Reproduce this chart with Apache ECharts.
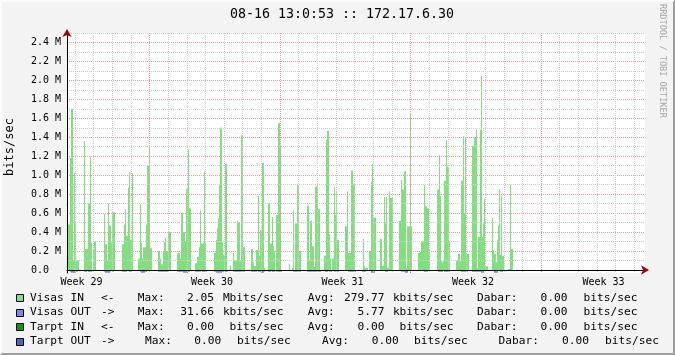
<!DOCTYPE html>
<html><head><meta charset="utf-8">
<script src="https://cdn.jsdelivr.net/npm/echarts@6/dist/echarts.min.js"></script>
<style>
html,body{margin:0;padding:0;background:#f3f3f3;}
#c{position:absolute;left:0;top:0;width:675px;height:355px;}
#frame{position:absolute;left:0;top:0;width:675px;height:355px;box-sizing:border-box;border:2px solid;border-color:#fcfcfc #9e9e9e #9e9e9e #fcfcfc;pointer-events:none;}
</style></head><body>
<div id="c"></div><div id="frame"></div>
<script>
// ---- data (one value per sample, time step = 1/578 of the 31-day window) ----
const title = '08-16 13:0:53 :: 172.17.6.30';
const yAxisName = 'bits/sec';
const watermark = 'RRDTOOL / TOBI OETIKER';
const weekLabels = ['Week 29', 'Week 30', 'Week 31', 'Week 32', 'Week 33'];
const weekLabelPos = [-3.65, 3.35, 10.35, 17.35, 24.35];   // days, week grid at 0,7,14,21
const windowStart = -4.425;  // days
const windowDays = 31;
const samplesInWindow = 578;

// Visas IN, Mbits/sec
const visasIn = [
.21,.48,.48,1.18,1.70,1.70,.10,1.02,.49,.10,
.10,.10,0,0,0,0,0,1.36,.22,.22,
.22,.70,.70,1.20,.29,0,.21,.30,.30,0,
0,0,0,0,0,0,0,.59,.27,.27,
.10,.70,.47,.47,.29,.61,.61,.61,0,0,
0,0,0,0,0,.27,.27,.48,.64,.36,
.36,.87,1.03,.32,.32,1.02,0,0,0,0,
0,.12,.12,.69,.29,.12,.24,.24,.24,.48,
1.10,1.10,1.29,.23,.23,0,0,0,0,0,
0,.20,.20,.12,.06,.06,.20,.30,.34,.20,
.20,.40,.40,.40,0,0,0,0,0,0,
.17,.18,.18,.12,.60,.60,.40,.40,.30,.86,
.86,1.27,.65,.65,0,0,0,0,.07,.07,
.14,.14,.24,.63,.28,.28,.29,1.04,.29,0,
0,0,0,0,0,0,0,.18,.18,.32,
.44,.54,.89,1.50,1.50,.29,.16,.16,1.12,1.12,
0,0,0,.05,0,0,.18,.10,.10,.10,
.52,.50,.50,.10,1.42,1.42,.24,.24,0,0,
0,0,0,0,.22,.22,.08,.04,.04,.21,
.21,.78,.15,.42,.42,1.13,1.13,.02,0,0,
0,.70,.70,.28,.28,.56,.25,.20,0,.58,
.58,1.55,1.55,1.32,0,0,0,0,0,0,
0,0,.06,0,0,.02,.63,0,.49,.49,
.90,.90,.20,.20,0,0,0,0,0,0,
.68,.68,.10,.52,.52,.25,.25,.03,.88,.88,
.90,.64,.64,0,0,0,0,.15,.15,1.37,
1.47,1.47,.38,.12,0,.12,.12,.87,.58,.83,
.32,.32,0,0,0,0,0,0,.46,.46,
.83,.18,.18,.18,1.05,1.05,.91,.91,0,0,
0,0,0,0,0,0,.33,.04,.02,.02,
.02,0,.20,.20,.93,1.12,.55,.55,.55,0,
0,0,0,.33,.33,.04,.05,.77,.49,.77,
.02,.02,.83,.76,.76,.76,0,0,0,0,
0,0,.52,.52,.95,.85,.85,1.04,1.04,.02,
.46,.46,.46,1.65,.46,0,0,0,0,0,
0,.18,.18,.19,.30,.30,.30,.90,.67,.67,
.65,.65,.21,0,0,0,0,0,0,0,
.85,.85,1.21,.78,.09,.09,.09,.94,.94,1.37,
1.09,1.09,.30,0,0,0,0,0,0,.10,
.10,.17,.17,.10,.94,.94,1.41,.60,1.40,.17,
.17,.17,0,0,0,1.31,1.31,1.40,1.40,1.48,
.02,.35,.35,1.48,2.05,.35,.49,.75,.04,.04,
.04,0,0,0,0,.55,.21,.17,.17,.08,
.32,.47,.85,.16,.78,.15,.15,0,0,0,
0,.01,.01,.90,.22,.22,0
];

// Visas OUT, kbits/sec (drawn mirrored below the zero line)
const visasOut = [
0,0,0,20,30,30,30,30,30,20,
20,0,0,0,0,0,0,20,20,20,
0,20,20,20,20,0,0,0,0,0,
0,0,0,0,0,0,0,20,30,30,
30,30,30,20,0,0,20,0,0,0,
0,0,0,0,0,20,20,20,20,20,
0,0,20,20,20,0,0,0,0,0,
0,0,0,20,30,30,30,30,20,20,
0,0,0,0,0,0,0,0,0,0,
0,20,20,20,20,20,20,20,20,20,
20,0,0,0,0,0,0,0,0,0,
20,20,20,20,20,20,30,30,30,30,
30,20,20,0,0,0,0,0,20,20,
20,20,20,20,0,20,20,20,20,20,
0,0,0,0,0,0,0,20,20,30,
30,30,30,30,30,20,20,0,20,20,
20,0,0,0,0,0,20,20,20,20,
20,20,20,20,20,20,20,20,0,0,
0,0,0,0,20,20,20,20,20,20,
0,20,20,20,30,30,30,20,0,0,
0,20,20,20,0,20,20,20,0,20,
20,20,20,20,20,0,0,0,0,0,
0,0,0,0,0,0,20,20,20,20,
20,20,20,20,0,0,0,0,0,0,
20,20,20,20,20,20,20,20,20,20,
20,20,20,20,0,0,0,0,20,20,
20,0,20,20,20,0,0,20,20,20,
20,20,0,0,0,0,0,0,0,0,
0,20,20,20,20,20,20,20,20,0,
0,0,0,0,0,20,20,20,20,0,
0,0,0,0,30,30,30,30,0,0,
0,0,0,0,0,0,0,0,20,20,
20,0,0,0,0,0,0,0,0,0,
0,0,0,0,20,20,20,20,30,30,
30,0,0,31.66,0,0,0,0,0,0,
0,0,0,0,0,0,0,20,20,20,
20,0,0,0,0,0,0,0,0,0,
0,20,20,20,20,20,0,20,20,20,
20,20,20,0,0,0,0,0,0,0,
0,0,0,0,20,20,20,20,20,20,
20,0,0,0,0,20,20,20,20,20,
20,20,20,20,30,30,30,0,0,0,
0,0,0,0,0,0,0,30,30,30,
30,0,0,20,20,20,0,20,0,0,
0,0,0,0,0,0,0
];

const legendNames  = ['Visas IN', 'Visas OUT', 'Tarpt IN', 'Tarpt OUT'];
const legendArrows = ['<-', '->', '<-', '->'];
const legendColors = ['#80e080', '#8080ff', '#00a000', '#4a64c8'];
const maxVals  = ['2.05', '31.66', '0.00', '0.00'];
const maxUnits = ['Mbits/sec', 'kbits/sec', 'bits/sec', 'bits/sec'];
const avgVals  = ['279.77', '5.77', '0.00', '0.00'];
const avgUnits = ['kbits/sec', 'kbits/sec', 'bits/sec', 'bits/sec'];
const curVals  = ['0.00', '0.00', '0.00', '0.00'];
const curUnits = ['bits/sec', 'bits/sec', 'bits/sec', 'bits/sec'];

// ---- chart ----
const step = windowDays / samplesInWindow;
const tAt = i => windowStart + (i + 0.5) * step;   // sample centre
const inData = visasIn.map((v, i) => [tAt(i), v]);
const outData = visasOut.map((v, i) => [tAt(i), -v / 1000]);

const MONO = '"DejaVu Sans Mono", monospace';
const xMin = windowStart, xMax = windowStart + windowDays;
const yMin = -0.032, yMax = 2.5;
const minorCol = '#cfcfcf', majorCol = '#e8a0a0', arrowCol = '#a00000';

const chart = echarts.init(document.getElementById('c'), null, {renderer: 'canvas'});

const graphic = [];
graphic.push({type: 'text', x: 342, y: 15, style: {text: title, font: '13.3px ' + MONO, fill: '#000', align: 'center', verticalAlign: 'middle', textAlign: 'center', textVerticalAlign: 'middle'}});
graphic.push({type: 'text', x: 662, y: 4, rotation: -Math.PI / 2, style: {text: watermark, font: '8.6px ' + MONO, fill: '#a8a8a8', align: 'left', verticalAlign: 'middle', textAlign: 'left', textVerticalAlign: 'middle'}});
graphic.push({type: 'text', x: 10, y: 147, rotation: Math.PI / 2, style: {text: yAxisName, font: '12px ' + MONO, fill: '#000', align: 'center', verticalAlign: 'middle', textAlign: 'center', textVerticalAlign: 'middle'}});

const rowY = [298, 312.5, 327, 341.5];
const shifts = [[0, 0, 0], [0, 0, 0], [0, 0, 0], [7.3, 14.3, 21.5]];
const LF = '11.2px ' + MONO;
function txt(s, x, y, align) {
  return {type: 'text', x: x, y: y, style: {text: s, font: LF, fill: '#000', align: align, verticalAlign: 'middle', textAlign: align, textVerticalAlign: 'middle'}};
}
for (let r = 0; r < 4; r++) {
  const y = rowY[r], s = shifts[r];
  graphic.push({type: 'rect', shape: {x: 16.5, y: Math.round(y) - 3.5, width: 7, height: 7}, style: {fill: legendColors[r], stroke: '#000', lineWidth: 1}});
  graphic.push(txt(legendNames[r], 30, y, 'left'));
  graphic.push(txt(legendArrows[r], 101, y, 'left'));
  graphic.push(txt('Max:', 137.8 + s[0], y, 'left'));
  graphic.push(txt(maxVals[r], 214 + s[0], y, 'right'));
  graphic.push(txt(maxUnits[r], 283.5 + s[0], y, 'right'));
  graphic.push(txt('Avg:', 307.8 + s[1], y, 'left'));
  graphic.push(txt(avgVals[r], 384.5 + s[1], y, 'right'));
  graphic.push(txt(avgUnits[r], 453.5 + s[1], y, 'right'));
  graphic.push(txt('Dabar:', 477 + s[2], y, 'left'));
  graphic.push(txt(curVals[r], 567.5 + s[2], y, 'right'));
  graphic.push(txt(curUnits[r], 637.5 + s[2], y, 'right'));
}

const hidden = {show: false};
const option = {
  animation: false,
  backgroundColor: '#f3f3f3',
  grid: {left: 67, right: 30, top: 33, bottom: 82, show: true, backgroundColor: '#ffffff', borderWidth: 0},
  xAxis: [
    {type: 'value', min: xMin, max: xMax, minInterval: 1, maxInterval: 1, position: 'bottom', z: 5,
     axisLine: {show: true, onZero: true, lineStyle: {color: '#000', width: 1}},
     axisTick: hidden, axisLabel: hidden,
     splitLine: {show: true, showMinLine: false, showMaxLine: false, lineStyle: {color: minorCol, type: [1, 1], width: 1}}},
    {type: 'value', min: xMin, max: xMax, minInterval: 7, maxInterval: 7, position: 'bottom', z: 5,
     axisLine: hidden, axisTick: hidden, axisLabel: hidden,
     splitLine: {show: true, showMinLine: false, showMaxLine: false, lineStyle: {color: majorCol, type: [1, 1], width: 1}}},
    {type: 'value', min: xMin, max: xMax, position: 'bottom', z: 5,
     axisLine: {show: false, onZero: false}, axisTick: hidden, splitLine: hidden,
     axisLabel: {show: true, customValues: weekLabelPos, margin: 4, color: '#000', fontFamily: MONO, fontSize: 10,
       formatter: function (v) { let k = 0, d = 1e9; weekLabelPos.forEach((p, i) => { if (Math.abs(p - v) < d) { d = Math.abs(p - v); k = i; } }); return weekLabels[k]; }}},
    {type: 'value', min: xMin, max: xMax, position: 'bottom', z: 6,
     axisLine: {show: true, onZero: true, symbol: ['none', 'arrow'], symbolSize: [7, 8], symbolOffset: [0, 4], lineStyle: {color: arrowCol, width: 0}},
     axisTick: hidden, axisLabel: hidden, splitLine: hidden}
  ],
  yAxis: [
    {type: 'value', min: yMin, max: yMax, minInterval: 0.1, maxInterval: 0.1, position: 'left', z: 5,
     axisLine: {show: true, onZero: false, lineStyle: {color: '#000', width: 1}},
     axisTick: hidden, axisLabel: hidden,
     splitLine: {show: true, showMinLine: false, showMaxLine: true, lineStyle: {color: minorCol, type: [1, 1], width: 1}}},
    {type: 'value', min: yMin, max: yMax, minInterval: 0.2, maxInterval: 0.2, position: 'left', z: 5,
     axisLine: {show: false, onZero: false}, axisTick: hidden,
     axisLabel: {show: true, showMinLabel: false, showMaxLabel: false, margin: 6, color: '#000', fontFamily: MONO, fontSize: 10,
       formatter: v => (Math.abs(v) < 1e-9 ? '0.0  ' : v.toFixed(1) + ' M')},
     splitLine: {show: true, showMinLine: false, showMaxLine: false, lineStyle: {color: majorCol, type: [1, 1], width: 1}}},
    {type: 'value', min: yMin, max: yMax, position: 'left', z: 6,
     axisLine: {show: true, onZero: false, symbol: ['none', 'arrow'], symbolSize: [7, 8], symbolOffset: [0, 4], lineStyle: {color: arrowCol, width: 0}},
     axisTick: hidden, axisLabel: hidden, splitLine: hidden}
  ],
  series: [
    {name: 'Visas IN', type: 'bar', data: inData, xAxisIndex: 0, yAxisIndex: 0, z: 1, large: false,
     barWidth: 1, barGap: '-100%', itemStyle: {color: legendColors[0]}, silent: true},
    {name: 'Visas OUT', type: 'bar', data: outData, xAxisIndex: 0, yAxisIndex: 0, z: 1, large: false,
     barWidth: 1, barGap: '-100%', itemStyle: {color: legendColors[1]}, silent: true}
  ],
  graphic: graphic
};
chart.setOption(option);
</script></body></html>
